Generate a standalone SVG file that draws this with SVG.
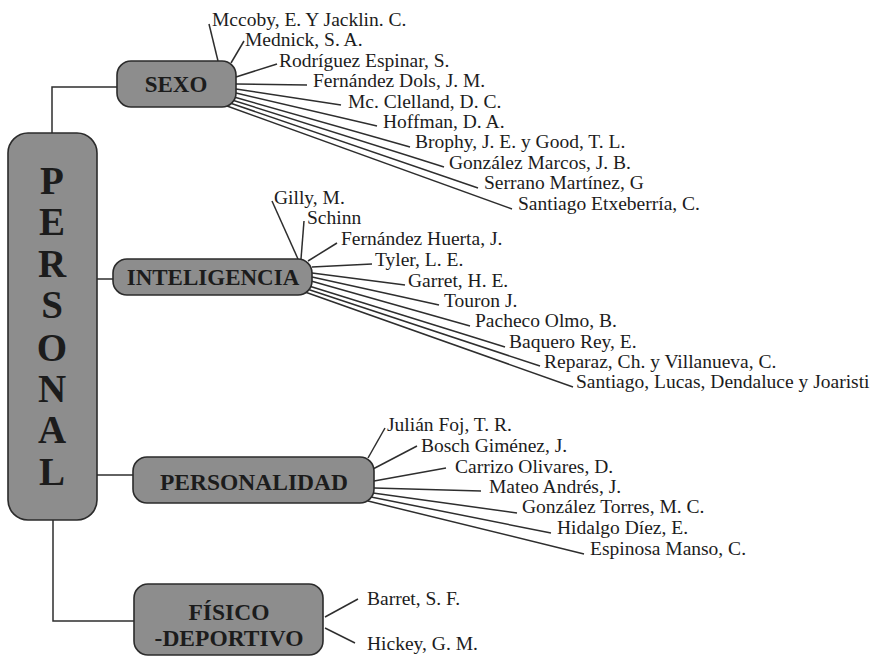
<svg xmlns="http://www.w3.org/2000/svg" width="883" height="658" viewBox="0 0 883 658">
<style>
.box{fill:#8d8d8d;stroke:#2b2b2b;stroke-width:1.6}
.lbl{font-family:"Liberation Serif",serif;font-weight:bold;fill:#1c1c1c;text-anchor:middle}
.ref{font-family:"Liberation Serif",serif;font-size:19.5px;fill:#1c1c1c}
.con line,.con path{stroke:#2e2e2e;stroke-width:1.5;fill:none}
</style>
<rect width="883" height="658" fill="#ffffff"/>
<g id="connectors" class="con">
<path d="M52,133 V87 H117"/>
<path d="M97,279 H113"/>
<path d="M97,475 H133"/>
<path d="M53,520 V621 H134"/>
<line x1="218" y1="61" x2="209" y2="24"/>
<line x1="231" y1="63" x2="244" y2="41"/>
<line x1="236" y1="77" x2="277" y2="64"/>
<line x1="236" y1="84" x2="307" y2="85"/>
<line x1="236" y1="89" x2="341" y2="105"/>
<line x1="236" y1="93" x2="377" y2="126"/>
<line x1="234" y1="97" x2="410" y2="147"/>
<line x1="232" y1="100" x2="444" y2="167"/>
<line x1="230" y1="103" x2="478" y2="188"/>
<line x1="227" y1="106" x2="512" y2="209"/>
<line x1="298" y1="259" x2="272" y2="201"/>
<line x1="301" y1="259" x2="304" y2="221"/>
<line x1="308" y1="261" x2="337" y2="243"/>
<line x1="312" y1="267" x2="372" y2="264"/>
<line x1="312" y1="273" x2="405" y2="285"/>
<line x1="312" y1="277" x2="439" y2="305"/>
<line x1="311" y1="281" x2="470" y2="326"/>
<line x1="309" y1="286" x2="505" y2="347"/>
<line x1="307" y1="289" x2="540" y2="366"/>
<line x1="305" y1="292" x2="573" y2="387"/>
<line x1="368" y1="458" x2="385" y2="428"/>
<line x1="373" y1="469" x2="417" y2="446"/>
<line x1="374" y1="481" x2="446" y2="468"/>
<line x1="374" y1="488" x2="481" y2="491"/>
<line x1="373" y1="493" x2="517" y2="513"/>
<line x1="371" y1="497" x2="551" y2="533"/>
<line x1="368" y1="501" x2="584" y2="554"/>
<line x1="325" y1="617" x2="358" y2="599"/>
<line x1="325" y1="628" x2="355" y2="643"/>
</g>
<g id="personal">
<rect class="box" x="8" y="133" width="89" height="387" rx="20"/>
<g class="lbl" style="font-size:39px">
<text x="52" y="194">P</text>
<text x="52" y="235">E</text>
<text x="52" y="277">R</text>
<text x="52" y="318">S</text>
<text x="52" y="361">O</text>
<text x="52" y="402">N</text>
<text x="52" y="443">A</text>
<text x="52" y="485">L</text>
</g>
</g>
<g id="sexo">
<rect class="box" x="117" y="61" width="119" height="46" rx="14"/>
<text class="lbl" x="176" y="92" style="font-size:23px">SEXO</text>
</g>
<g id="inteligencia">
<rect class="box" x="113" y="259" width="199" height="36" rx="14"/>
<text class="lbl" x="213" y="285" style="font-size:23px">INTELIGENCIA</text>
</g>
<g id="personalidad">
<rect class="box" x="133" y="457" width="241" height="46" rx="14"/>
<text class="lbl" x="254" y="490" style="font-size:23.5px">PERSONALIDAD</text>
</g>
<g id="fisico">
<rect class="box" x="134" y="584" width="189" height="71" rx="14"/>
<text class="lbl" x="229" y="620" style="font-size:23.5px">FÍSICO</text>
<text class="lbl" x="229" y="646" style="font-size:23.5px">-DEPORTIVO</text>
</g>
<g id="refs-sexo" class="ref">
<text x="212" y="26">Mccoby, E. Y Jacklin. C.</text>
<text x="245" y="46">Mednick, S. A.</text>
<text x="279" y="67">Rodríguez Espinar, S.</text>
<text x="313" y="87">Fernández Dols, J. M.</text>
<text x="348" y="108">Mc. Clelland, D. C.</text>
<text x="383" y="128">Hoffman, D. A.</text>
<text x="415" y="148">Brophy, J. E. y Good, T. L.</text>
<text x="449" y="169">González Marcos, J. B.</text>
<text x="484" y="189">Serrano Martínez, G</text>
<text x="518" y="210">Santiago Etxeberría, C.</text>
</g>
<g id="refs-inteligencia" class="ref">
<text x="274" y="204">Gilly, M.</text>
<text x="307" y="224">Schinn</text>
<text x="341" y="245">Fernández Huerta, J.</text>
<text x="375" y="266">Tyler, L. E.</text>
<text x="408" y="287">Garret, H. E.</text>
<text x="444" y="307">Touron J.</text>
<text x="475" y="327">Pacheco Olmo, B.</text>
<text x="509" y="348">Baquero Rey, E.</text>
<text x="544" y="368">Reparaz, Ch. y Villanueva, C.</text>
<text x="576" y="388">Santiago, Lucas, Dendaluce y Joaristi</text>
</g>
<g id="refs-personalidad" class="ref">
<text x="387" y="431">Julián Foj, T. R.</text>
<text x="421" y="452">Bosch Giménez, J.</text>
<text x="455" y="473">Carrizo Olivares, D.</text>
<text x="489" y="493">Mateo Andrés, J.</text>
<text x="522" y="513">González Torres, M. C.</text>
<text x="557" y="534">Hidalgo Díez, E.</text>
<text x="590" y="555">Espinosa Manso, C.</text>
</g>
<g id="refs-fisico" class="ref">
<text x="367" y="605">Barret, S. F.</text>
<text x="367" y="650">Hickey, G. M.</text>
</g>
</svg>
